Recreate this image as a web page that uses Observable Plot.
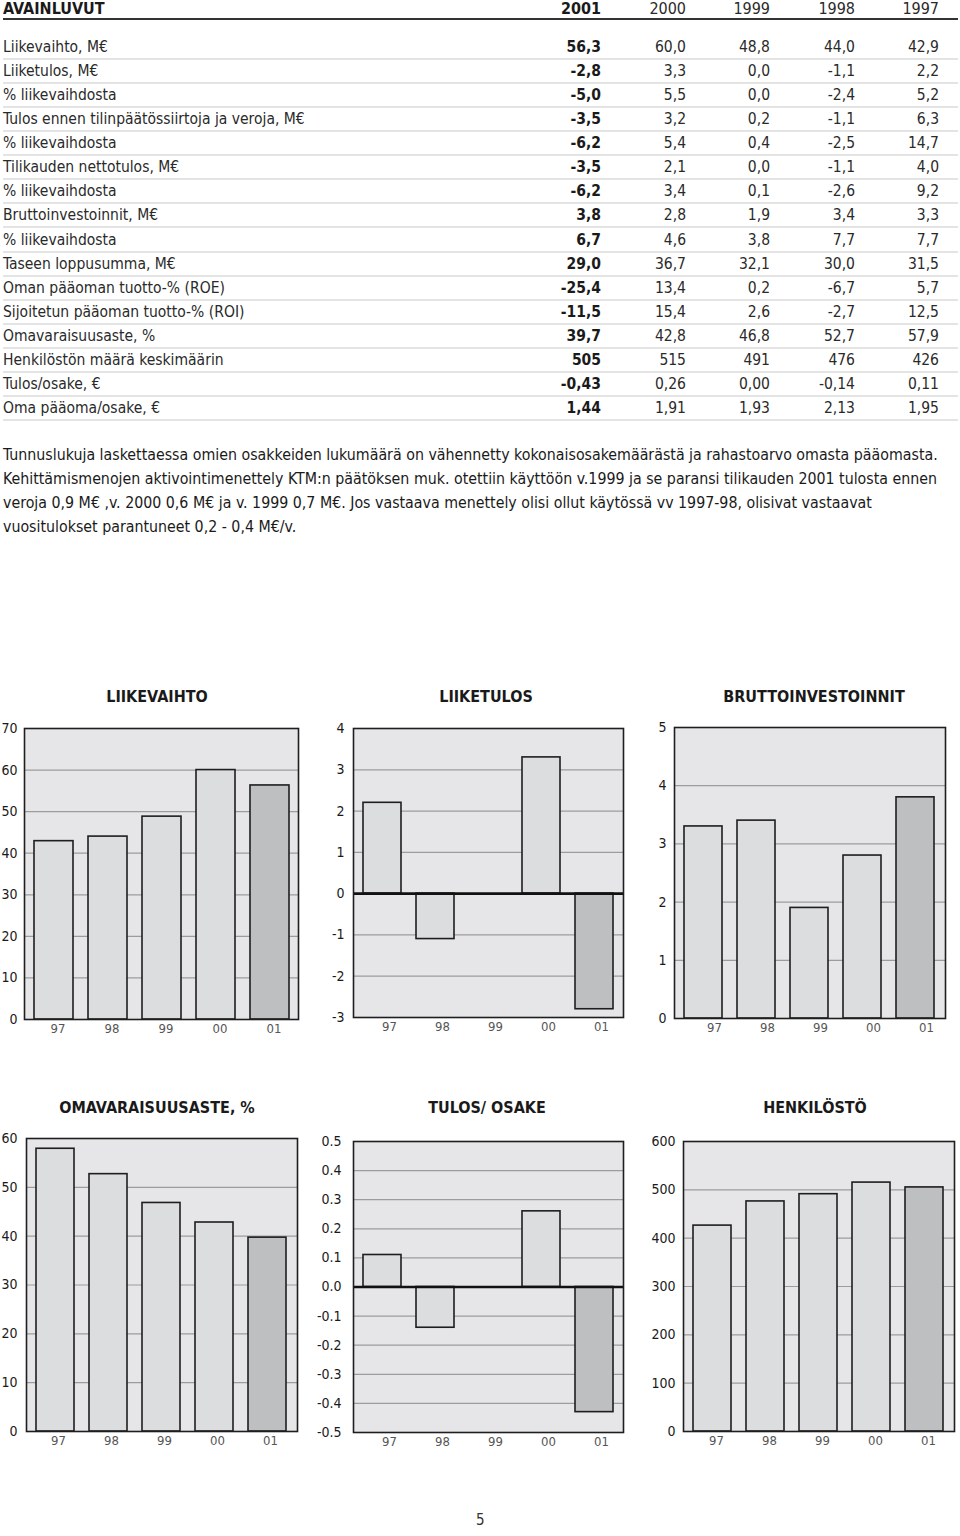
<!DOCTYPE html>
<html>
<head>
<meta charset="utf-8">
<script src="https://cdn.jsdelivr.net/npm/d3@7"></script>
<script src="https://cdn.jsdelivr.net/npm/@observablehq/plot@0.6"></script>
<style>
  html, body { margin: 0; padding: 0; background: #fff; }
  body { font-family: "Liberation Sans Narrow", "DejaVu Sans Condensed", "Arial Narrow", sans-serif; color: #1a1a1a; }
  #page { position: relative; width: 960px; height: 1536px; overflow: hidden; }
  .abs { position: absolute; }
  .hdr { font-weight: bold; font-size: 16px; line-height: 17px; white-space: nowrap; }
  .cell { position: absolute; font-size: 15.5px; line-height: 24px; white-space: nowrap; }
  .num { text-align: right; width: 80px; }
  .bold { font-weight: bold; }
  .light { color: #2a2a2a; }
  .sep { position: absolute; left: 3px; width: 955px; height: 2px; background: #e4e4e4; }
  .note { position: absolute; left: 3px; top: 443px; font-size: 15.8px; line-height: 24px; white-space: nowrap; color: #1a1a1a; }
  .ctitle { position: absolute; font-weight: bold; font-size: 16px; line-height: 20px; transform: translateX(-50%); white-space: nowrap; }
  .chart { position: absolute; }
  .pageno { position: absolute; left: 476px; top: 1511px; font-size: 15px; color: #333; }
</style>
</head>
<body>
<div id="page"></div>
<script>
// ---------- Table data ----------
const headerTitle = "AVAINLUVUT";
const yearHeaders = ["2001", "2000", "1999", "1998", "1997"];
const rowLabels = [
  "Liikevaihto, M€",
  "Liiketulos, M€",
  "% liikevaihdosta",
  "Tulos ennen tilinpäätössiirtoja ja veroja, M€",
  "% liikevaihdosta",
  "Tilikauden nettotulos, M€",
  "% liikevaihdosta",
  "Bruttoinvestoinnit, M€",
  "% liikevaihdosta",
  "Taseen loppusumma, M€",
  "Oman pääoman tuotto-% (ROE)",
  "Sijoitetun pääoman tuotto-% (ROI)",
  "Omavaraisuusaste, %",
  "Henkilöstön määrä keskimäärin",
  "Tulos/osake, €",
  "Oma pääoma/osake, €"
];
const col2001 = ["56,3","-2,8","-5,0","-3,5","-6,2","-3,5","-6,2","3,8","6,7","29,0","-25,4","-11,5","39,7","505","-0,43","1,44"];
const col2000 = ["60,0","3,3","5,5","3,2","5,4","2,1","3,4","2,8","4,6","36,7","13,4","15,4","42,8","515","0,26","1,91"];
const col1999 = ["48,8","0,0","0,0","0,2","0,4","0,0","0,1","1,9","3,8","32,1","0,2","2,6","46,8","491","0,00","1,93"];
const col1998 = ["44,0","-1,1","-2,4","-1,1","-2,5","-1,1","-2,6","3,4","7,7","30,0","-6,7","-2,7","52,7","476","-0,14","2,13"];
const col1997 = ["42,9","2,2","5,2","6,3","14,7","4,0","9,2","3,3","7,7","31,5","5,7","12,5","57,9","426","0,11","1,95"];

const noteLines = [
  "Tunnuslukuja laskettaessa omien osakkeiden lukumäärä on vähennetty kokonaisosakemäärästä ja rahastoarvo omasta pääomasta.",
  "Kehittämismenojen aktivointimenettely KTM:n päätöksen muk. otettiin käyttöön v.1999 ja se paransi tilikauden 2001 tulosta ennen",
  "veroja 0,9 M€ ,v. 2000 0,6 M€ ja v. 1999 0,7 M€. Jos vastaava menettely olisi ollut käytössä vv 1997-98, olisivat vastaavat",
  "vuositulokset parantuneet 0,2 - 0,4 M€/v."
];

// ---------- Chart data ----------
const years = ["97", "98", "99", "00", "01"];
const liikevaihto = [42.9, 44.0, 48.8, 60.0, 56.3];
const liiketulos = [2.2, -1.1, 0.0, 3.3, -2.8];
const bruttoinvestoinnit = [3.3, 3.4, 1.9, 2.8, 3.8];
const omavaraisuusaste = [57.9, 52.7, 46.8, 42.8, 39.7];
const tulosOsake = [0.11, -0.14, 0.00, 0.26, -0.43];
const henkilosto = [426, 476, 491, 515, 505];

const chartTitles = ["LIIKEVAIHTO", "LIIKETULOS", "BRUTTOINVESTOINNIT", "OMAVARAISUUSASTE, %", "TULOS/ OSAKE", "HENKILÖSTÖ"];
const chartTicks = [
  [0, 10, 20, 30, 40, 50, 60, 70],
  [-3, -2, -1, 0, 1, 2, 3, 4],
  [0, 1, 2, 3, 4, 5],
  [0, 10, 20, 30, 40, 50, 60],
  [-0.5, -0.4, -0.3, -0.2, -0.1, 0, 0.1, 0.2, 0.3, 0.4, 0.5],
  [0, 100, 200, 300, 400, 500, 600]
];

// ---------- Build page ----------
const page = document.getElementById("page");
function el(tag, cls, text, style) {
  const e = document.createElement(tag);
  if (cls) e.className = cls;
  if (text != null) e.textContent = text;
  if (style) Object.assign(e.style, style);
  page.appendChild(e);
  return e;
}

// header
el("div", "abs hdr", headerTitle, {left: "3px", top: "0px"});
const colRights = [601, 686, 770, 855, 939];
yearHeaders.forEach((y, i) => {
  el("div", "abs hdr num" + (i === 0 ? "" : " light"), y, {left: (colRights[i] - 80) + "px", top: "0px", fontWeight: i === 0 ? "bold" : "normal"});
});
el("div", "abs", null, {left: "3px", top: "18px", width: "955px", height: "2px", background: "#333"});

const cols = [col2001, col2000, col1999, col1998, col1997];
const rowStep = 24.07;
rowLabels.forEach((lab, r) => {
  const cy = 47 + r * rowStep;
  el("div", "cell light", lab, {left: "3px", top: (cy - 12) + "px"});
  cols.forEach((c, i) => {
    el("div", "cell num" + (i === 0 ? " bold" : " light"), c[r], {left: (colRights[i] - 80) + "px", top: (cy - 12) + "px"});
  });
  el("div", "sep", null, {top: (cy + 11) + "px"});
});

const note = el("div", "note", null);
noteLines.forEach((t, i) => {
  if (i) note.appendChild(document.createElement("br"));
  note.appendChild(document.createTextNode(t));
});

// ---------- Charts ----------
const series = [liikevaihto, liiketulos, bruttoinvestoinnit, omavaraisuusaste, tulosOsake, henkilosto];
const frames = [
  {x0: 24, x1: 298, y0: 728, y1: 1019, pad: 7, dx: 4, tcx: 157, ty: 697},
  {x0: 353, x1: 623, y0: 728, y1: 1017, pad: 9, dx: 7, tcx: 486, ty: 697},
  {x0: 674, x1: 945, y0: 727, y1: 1018, pad: 8, dx: 11, tcx: 814, ty: 697},
  {x0: 26, x1: 297, y0: 1138, y1: 1431, pad: 9, dx: 3, tcx: 157, ty: 1108},
  {x0: 353, x1: 623, y0: 1141, y1: 1432, pad: 12, dx: 7, tcx: 487, ty: 1108},
  {x0: 683, x1: 954, y0: 1141, y1: 1431, pad: 8, dx: 4, tcx: 815, ty: 1108}
];

const hyphen = s => s.replace("\u2212", "-");

series.forEach((vals, k) => {
  const f = frames[k];
  const ticks = chartTicks[k];
  const data = years.map((y, i) => ({year: y, value: vals[i]}));
  const mL = 45, mR = 6, mT = 10, mB = 26;
  const W = (f.x1 - f.x0) + mL + mR;
  const H = (f.y1 - f.y0) + mT + mB;
  const hasNeg = ticks[0] < 0;
  const isDecimal = k === 4;
  const fmt = isDecimal ? (d => hyphen(d3.format(".1f")(d))) : (d => hyphen(d3.format("d")(d)));
  const marks = [
    Plot.frame({fill: "#e6e6e8", stroke: null}),
    Plot.ruleY(ticks.slice(1, -1), {stroke: "#9c9c9e", strokeWidth: 1.2}),
    Plot.barY(data, {
      x: "year", y: "value",
      fill: d => d.year === "01" ? "#bebfc1" : "#dcdddf",
      stroke: "#1e1e1e", strokeWidth: 1.6
    }),
    hasNeg ? Plot.ruleY([0], {stroke: "#111", strokeWidth: 2.6}) : null,
    Plot.frame({stroke: "#1e1e1e", strokeWidth: 1.6}),
    Plot.axisY({
      ticks, tickSize: 0, tickPadding: f.pad, fontSize: 14, fill: "#1a1a1a",
      tickFormat: fmt
    }),
    Plot.axisX({tickSize: 0, tickPadding: 4, dx: f.dx, fontSize: 13, fill: "#555"})
  ];
  const svg = Plot.plot({
    width: W, height: H,
    marginLeft: mL, marginRight: mR, marginTop: mT, marginBottom: mB,
    style: {fontFamily: '"Liberation Sans Narrow", "DejaVu Sans Condensed", sans-serif', background: "transparent", overflow: "visible"},
    x: {type: "band", domain: years, paddingInner: 0.28, paddingOuter: 0.15, label: null},
    y: {domain: [ticks[0], ticks[ticks.length - 1]], label: null},
    color: {type: "identity"},
    marks: marks.filter(Boolean)
  });
  svg.classList.add("chart");
  svg.style.position = "absolute";
  svg.style.left = (f.x0 - mL) + "px";
  svg.style.top = (f.y0 - mT) + "px";
  page.appendChild(svg);
  el("div", "ctitle", chartTitles[k], {left: f.tcx + "px", top: (f.ty - 10) + "px"});
});

el("div", "pageno", "5");
</script>
</body>
</html>
